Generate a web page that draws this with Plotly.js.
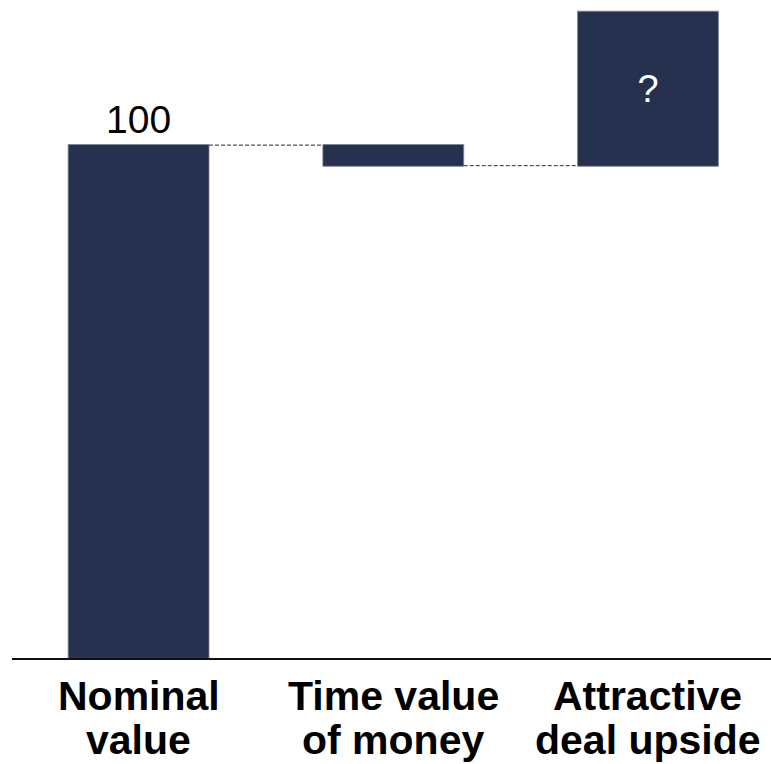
<!DOCTYPE html>
<html>
<head>
<meta charset="utf-8">
<script src="https://cdn.plot.ly/plotly-3.0.1.min.js"></script>
<style>html,body{margin:0;padding:0;background:#fff;}#chart{width:771px;height:764px;}</style>
</head>
<body>
<div id="chart"></div>
<script>
const categories = ['Nominal value', 'Time value of money', 'Attractive deal upside'];
const labelLine1 = ['Nominal', 'Time value', 'Attractive'];
const labelLine2 = ['value', 'of money', 'deal upside'];
const measures = ['absolute', 'relative', 'relative'];
const values = [100, -4, 30];
const barTexts = ['100', '', '?'];
const textPositions = ['outside', 'none', 'inside'];

const barColor = '#263150';
const fontFamily = 'Liberation Sans, Arial, sans-serif';

const trace = {
  type: 'waterfall',
  x: categories,
  y: values,
  measure: measures,
  text: barTexts,
  textposition: textPositions,
  textinfo: 'text',
  insidetextanchor: 'middle',
  outsidetextfont: {family: fontFamily, size: 39, color: '#000000'},
  insidetextfont: {family: fontFamily, size: 38, color: '#ffffff'},
  constraintext: 'none',
  cliponaxis: false,
  width: 0.553,
  increasing: {marker: {color: barColor, line: {color: '#7d8294', width: 0.8}}},
  decreasing: {marker: {color: barColor, line: {color: '#7d8294', width: 0.8}}},
  totals: {marker: {color: barColor, line: {color: '#7d8294', width: 0.8}}},
  connector: {mode: 'between', line: {color: '#555555', width: 1.3, dash: '4px,2px'}},
  hoverinfo: 'skip'
};

const annotations = [];
categories.forEach((c, i) => {
  annotations.push({
    xref: 'x', yref: 'paper', x: c, y: 0, yanchor: 'middle', xanchor: 'center',
    yshift: -38, showarrow: false, text: '<b>' + labelLine1[i] + '</b>',
    font: {family: fontFamily, size: 41, color: '#000000'}
  });
  annotations.push({
    xref: 'x', yref: 'paper', x: c, y: 0, yanchor: 'middle', xanchor: 'center',
    yshift: -82, showarrow: false, text: '<b>' + labelLine2[i] + '</b>',
    font: {family: fontFamily, size: 41, color: '#000000'}
  });
});

const layout = {
  width: 771,
  height: 764,
  margin: {l: 12, r: 0, t: 0, b: 106, pad: 0},
  paper_bgcolor: '#ffffff',
  plot_bgcolor: '#ffffff',
  showlegend: false,
  font: {family: fontFamily, color: '#000000'},
  xaxis: {
    type: 'category',
    range: [-0.497, 2.483],
    showticklabels: false,
    ticks: '',
    showgrid: false,
    zeroline: false,
    showline: true,
    linecolor: '#111111',
    linewidth: 2
  },
  yaxis: {
    range: [0, 128.3],
    showticklabels: false,
    showgrid: false,
    zeroline: false,
    showline: false,
    ticks: ''
  },
  annotations: annotations
};

Plotly.newPlot('chart', [trace], layout, {displayModeBar: false, staticPlot: true});
</script>
</body>
</html>
